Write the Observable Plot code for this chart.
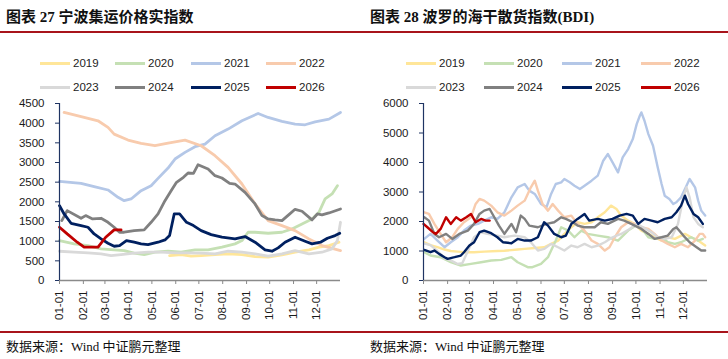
<!DOCTYPE html>
<html><head><meta charset="utf-8">
<script src="https://cdn.jsdelivr.net/npm/d3@7"></script>
<script src="https://cdn.jsdelivr.net/npm/@observablehq/plot@0.6"></script>
<style>
body{margin:0;background:#fff;width:728px;height:359px;overflow:hidden;position:relative;font-family:"Liberation Sans",Arial,sans-serif;}
.panel{position:absolute;top:0;width:364px;height:359px;}
.title{position:absolute;top:5px;font-family:"Liberation Serif","Noto Sans CJK SC",serif;font-weight:bold;font-size:15px;color:#111;white-space:nowrap;}
.rule{position:absolute;left:0;width:364px;height:2px;background:#A8141B;}
.src{position:absolute;top:336px;font-family:"Liberation Serif","Noto Sans CJK SC",serif;font-size:13px;color:#111;white-space:nowrap;}
.leg{position:absolute;height:14px;display:flex;align-items:center;font-size:11.5px;color:#222;}
.sw{width:30px;height:3px;margin-right:3px;}
.chart{position:absolute;top:95px;left:0;}
</style></head>
<body>
<script>
const years = ["2019","2020","2021","2022","2023","2024","2025","2026"];
const colors = ["#FFE699","#C5E0B4","#B4C7E7","#F8CBAD","#D9D9D9","#808080","#002060","#C00000"];
const monthDays = [0,31,59,90,120,151,181,212,243,273,304,334];
const monthLabels = ["01-01","02-01","03-01","04-01","05-01","06-01","07-01","08-01","09-01","10-01","11-01","12-01"];
const nbTicks = [0,500,1000,1500,2000,2500,3000,3500,4000,4500];
const bdiTicks = [0,1000,2000,3000,4000,5000,6000];

// 宁波集运价格实指数 [day of year, value]
const nb2019 = [[143,634],[158,660],[171,618],[184,634],[202,660],[219,677],[237,660],[254,609],[271,592],[289,651],[306,719],[324,778],[337,846],[350,888],[363,973]];
const nb2020 = [[0,1015],[19,931],[37,888],[54,804],[71,778],[84,761],[97,694],[110,660],[124,719],[141,744],[158,719],[176,778],[193,778],[211,846],[228,931],[237,1015],[245,1227],[254,1227],[271,1201],[289,1227],[302,1311],[315,1438],[328,1565],[337,1734],[345,2073],[354,2200],[361,2411]];
const nb2021 = [[0,2521],[28,2470],[45,2386],[63,2301],[76,2115],[84,2030],[93,2073],[106,2284],[119,2411],[128,2597],[141,2859],[150,3088],[163,3257],[176,3401],[189,3469],[202,3680],[219,3849],[237,4061],[258,4247],[271,4145],[289,4044],[306,3976],[319,3959],[332,4035],[350,4103],[365,4272]];
const nb2022 = [[6,4272],[32,4145],[50,4061],[63,3892],[71,3722],[89,3570],[106,3485],[124,3426],[141,3494],[163,3570],[184,3426],[202,3172],[219,2876],[237,2453],[254,1946],[271,1523],[289,1396],[306,1269],[324,1057],[341,888],[365,761]];
const nb2023 = [[0,744],[19,719],[37,702],[54,677],[67,634],[80,660],[97,694],[115,719],[132,719],[150,702],[167,702],[184,694],[202,677],[219,744],[237,719],[254,677],[271,618],[289,677],[306,761],[324,677],[341,719],[354,804],[361,1015],[365,1480]];
const nb2024 = [[3,1523],[10,1777],[28,1582],[34,1650],[43,1565],[54,1582],[63,1480],[71,1354],[78,1227],[84,1227],[97,1269],[110,1286],[119,1480],[128,1692],[137,2030],[145,2284],[152,2496],[161,2623],[167,2733],[174,2724],[180,2944],[193,2834],[202,2665],[211,2606],[221,2470],[228,2453],[241,2242],[254,1946],[263,1650],[271,1565],[280,1540],[289,1523],[298,1675],[306,1810],[315,1760],[328,1540],[335,1692],[341,1667],[350,1717],[365,1819]];
const nb2025 = [[0,1904],[6,1692],[15,1455],[28,1396],[37,1354],[45,1184],[54,1057],[63,948],[71,871],[78,888],[87,1015],[97,973],[106,931],[115,914],[128,973],[137,1032],[143,1142],[149,1692],[156,1692],[165,1480],[174,1396],[184,1269],[197,1167],[211,1100],[228,1057],[241,1117],[254,973],[267,778],[276,744],[284,829],[293,973],[306,1100],[319,998],[328,931],[339,973],[348,1074],[358,1142],[364,1201]];
const nb2026 = [[0,1354],[10,1184],[23,973],[32,846],[50,846],[60,1100],[71,1286],[80,1286]];

// 波罗的海干散货指数(BDI) [day of year, value]
const bdi2019 = [[1,1297],[9,1200],[18,1128],[27,1050],[35,1000],[44,980],[52,960],[65,960],[78,980],[95,1000],[104,1010],[113,1030],[121,1050],[130,1071],[143,1100],[155,1128],[164,1241],[173,1354],[181,1579],[190,1805],[198,1974],[207,1918],[216,1974],[224,2143],[233,2312],[241,2538],[248,2425],[254,2200],[263,2030],[271,1918],[280,1692],[289,1579],[297,1466],[306,1354],[314,1466],[323,1410],[336,1579],[344,1466],[353,1354],[362,1184]];
const bdi2020 = [[1,959],[9,846],[22,790],[35,620],[48,508],[61,564],[74,620],[87,677],[100,699],[113,790],[121,620],[134,451],[140,451],[151,564],[160,790],[170,1354],[177,1805],[186,1692],[194,1466],[203,1692],[211,1579],[224,1523],[237,1466],[250,1354],[263,1692],[276,1918],[289,1466],[297,1410],[306,1466],[314,1297],[323,1241],[331,1297],[344,1466],[353,1354],[359,1410]];
const bdi2021 = [[1,1410],[9,1579],[18,1354],[27,1128],[35,1297],[44,1466],[52,1692],[61,1861],[70,1918],[78,2030],[87,2143],[95,2087],[104,2312],[113,2820],[121,3158],[130,3271],[136,3046],[143,2933],[151,2594],[158,2482],[164,2933],[170,3271],[177,3328],[181,3440],[188,3328],[194,3215],[201,3102],[207,3215],[216,3384],[224,3553],[231,4061],[237,4286],[243,4004],[250,3666],[256,4174],[263,4456],[269,4794],[274,5302],[278,5584],[280,5697],[284,5414],[289,4963],[295,4568],[301,3835],[306,3271],[310,2876],[316,2764],[321,2594],[325,2651],[331,2820],[338,3215],[342,3440],[349,3158],[353,2707],[357,2369],[362,2200]];
const bdi2022 = [[1,2312],[7,2256],[14,1918],[22,1579],[29,1297],[37,1466],[44,1748],[52,1974],[61,2143],[67,2594],[72,2764],[78,2707],[87,2538],[95,2312],[104,2200],[113,2369],[121,2538],[130,2707],[138,3158],[143,3384],[147,3046],[153,2594],[160,2369],[166,2594],[173,2369],[181,2143],[190,2200],[198,1918],[207,1692],[216,1354],[224,1241],[233,1015],[239,1128],[246,1466],[254,1805],[263,1974],[271,1918],[280,1805],[289,1748],[297,1579],[306,1354],[314,1241],[323,1128],[331,1241],[340,1128],[349,1354],[355,1579],[359,1579],[362,1466]];
const bdi2023 = [[1,1250],[9,1200],[18,1000],[27,750],[35,680],[44,560],[50,590],[57,1000],[65,1466],[74,1636],[82,1579],[95,1523],[104,1466],[117,1523],[130,1466],[138,1297],[147,1015],[155,1071],[164,1241],[173,1128],[181,1015],[190,1184],[198,1128],[207,1241],[216,1128],[224,1184],[233,1297],[243,1466],[254,1579],[265,1748],[274,1918],[282,1805],[293,1636],[301,1466],[310,1410],[319,1466],[327,1918],[334,2820],[338,3158],[342,2820],[347,2143],[353,1918],[359,1805]];
const bdi2024 = [[1,2143],[7,2030],[14,1579],[20,1466],[29,1579],[37,1410],[46,1579],[57,1692],[65,1918],[72,2256],[78,2369],[85,2425],[91,2143],[97,1861],[104,1579],[113,1918],[119,1636],[125,2200],[130,2087],[136,1861],[147,1805],[158,1918],[168,1974],[177,2143],[183,2087],[192,1974],[198,1861],[207,1805],[220,1805],[228,1974],[237,1918],[250,2087],[258,2030],[267,1918],[280,1748],[289,1579],[297,1410],[306,1466],[314,1523],[321,1748],[325,1805],[334,1523],[342,1297],[351,1128],[357,1015],[362,1015]];
const bdi2025 = [[1,1038],[9,959],[14,1015],[20,902],[27,790],[31,733],[40,790],[48,846],[52,959],[59,1184],[65,1297],[72,1636],[78,1692],[87,1602],[95,1466],[102,1297],[113,1263],[121,1410],[130,1354],[138,1354],[147,1466],[155,1974],[160,1861],[168,1579],[177,1466],[183,1523],[190,1918],[198,2087],[207,2256],[213,2030],[224,2087],[233,2030],[243,2087],[252,2200],[261,2256],[269,2200],[276,1918],[284,2087],[293,2030],[301,1974],[310,2087],[319,2143],[325,2312],[331,2538],[336,2876],[340,2594],[347,2256],[353,2143],[359,1918]];
const bdi2026 = [[0,1918],[5,1805],[12,1636],[16,1579],[22,1748],[29,2143],[35,1918],[42,2143],[48,2030],[55,2143],[61,2256],[67,1974],[74,2087],[80,2030],[85,2030]];

const nbSeries = [nb2019,nb2020,nb2021,nb2022,nb2023,nb2024,nb2025,nb2026];
const bdiSeries = [bdi2019,bdi2020,bdi2021,bdi2022,bdi2023,bdi2024,bdi2025,bdi2026];

function makeChart(series, yMax, yTicks, marginRight, sw) {
  const data = years.flatMap((y, i) => series[i].map(([d, v]) => ({year: y, day: d, value: v})));
  return Plot.plot({
    width: 364, height: 235,
    marginTop: 8, marginBottom: 50, marginLeft: 59, marginRight,
    style: {fontFamily: "'Liberation Sans', Arial, sans-serif", fontSize: "11.5px", color: "#1a1a1a", background: "transparent", overflow: "visible"},
    x: {domain: [0, 365]},
    y: {domain: [0, yMax]},
    color: {domain: years, range: colors},
    marks: [
      Plot.line(data, {x: "day", y: "value", z: "year", stroke: "year", strokeWidth: sw, strokeLinejoin: "round", strokeLinecap: "round"}),
      Plot.ruleY([0], {stroke: "#8a8a8a", strokeWidth: 1.6}),
      Plot.ruleX([0], {stroke: "#1F3463", strokeWidth: 1.2}),
      Plot.axisY({ticks: yTicks, tickSize: 4, tickPadding: 11, stroke: "#1F3463", label: null, tickFormat: d => String(d)}),
      Plot.axisX({ticks: monthDays, tickFormat: d => monthLabels[monthDays.indexOf(d)], tickRotate: -90, tickSize: 4, tickPadding: 6, stroke: "#8a8a8a", label: null})
    ]
  });
}

function panel(left, title, legX, series, yMax, yTicks, marginRight, sw) {
  const p = document.createElement("div");
  p.className = "panel"; p.style.left = left + "px";
  const t = document.createElement("div"); t.className = "title"; t.style.left = "6px"; t.textContent = title; p.appendChild(t);
  const r1 = document.createElement("div"); r1.className = "rule"; r1.style.top = "31px"; p.appendChild(r1);
  years.forEach((y, i) => {
    const l = document.createElement("div"); l.className = "leg";
    l.style.left = legX[i % 4] + "px"; l.style.top = (i < 4 ? 56 : 80) + "px";
    const s = document.createElement("div"); s.className = "sw"; s.style.background = colors[i];
    l.appendChild(s); l.appendChild(document.createTextNode(y)); p.appendChild(l);
  });
  const c = document.createElement("div"); c.className = "chart";
  c.appendChild(makeChart(series, yMax, yTicks, marginRight, sw)); p.appendChild(c);
  const r2 = document.createElement("div"); r2.className = "rule"; r2.style.top = "331px"; p.appendChild(r2);
  const s = document.createElement("div"); s.className = "src"; s.style.left = "6px"; s.textContent = "数据来源：Wind 中证鹏元整理"; p.appendChild(s);
  document.body.appendChild(p);
}

panel(0, "图表 27 宁波集运价格实指数", [40,115,191,266], nbSeries, 4500, nbTicks, 24, 2.8);
panel(364, "图表 28 波罗的海干散货指数(BDI)", [42,120,198,277], bdiSeries, 6000, bdiTicks, 21, 2.4);
</script>
</body></html>
